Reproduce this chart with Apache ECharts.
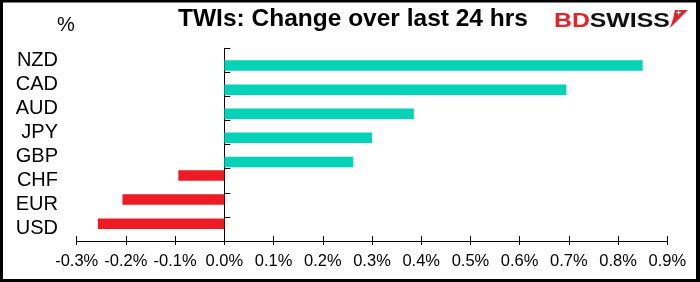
<!DOCTYPE html>
<html>
<head>
<meta charset="utf-8">
<script src="https://cdn.jsdelivr.net/npm/echarts@6/dist/echarts.min.js"></script>
<style>
html,body{margin:0;padding:0;background:#fff;}
#c{width:700px;height:282px;}
</style>
</head>
<body>
<div id="c"></div>
<script>
// Data (categories listed bottom to top)
const categories = ['USD', 'EUR', 'CHF', 'GBP', 'JPY', 'AUD', 'CAD', 'NZD'];
const changes = [-0.257, -0.207, -0.0935, 0.262, 0.300, 0.385, 0.695, 0.850];
const xTicks = { min: -0.3, max: 0.9, step: 0.1 };
const titleText = 'TWIs: Change over last 24 hrs';
const unitText = '%';

const negData = changes.map(v => (v < 0 ? v : '-'));
const posData = changes.map(v => (v >= 0 ? v : '-'));

const FONT = '"Liberation Sans", Arial, sans-serif';
const chart = echarts.init(document.getElementById('c'), null, { renderer: 'canvas' });

const fmt = v => (Math.abs(v) < 1e-9 ? '0.0' : v.toFixed(1)) + '%';

chart.setOption({
  animation: false,
  backgroundColor: '#fff',
  title: {
    text: titleText,
    left: 178,
    top: 7,
    padding: 0,
    textStyle: { fontFamily: FONT, fontSize: 24.5, fontWeight: 'bold', color: '#000' }
  },
  grid: { left: 76.7, right: 32.7, top: 48.3, bottom: 41, containLabel: false, outerBoundsMode: 'none' },
  xAxis: [
    {
      type: 'value',
      min: xTicks.min, max: xTicks.max, interval: xTicks.step,
      position: 'bottom',
      axisLine: { show: true, lineStyle: { color: '#000', width: 1 } },
      axisTick: { show: true, inside: true, length: 5, lineStyle: { color: '#000' } },
      axisLabel: { show: true, margin: 12, formatter: fmt, fontFamily: FONT, fontSize: 16.5, color: '#000', hideOverlap: false },
      splitLine: { show: false }
    },
    {
      type: 'value',
      min: xTicks.min, max: xTicks.max, interval: xTicks.step,
      position: 'bottom',
      axisLine: { show: false },
      axisTick: { show: true, inside: false, length: 4, lineStyle: { color: '#000' } },
      axisLabel: { show: false },
      splitLine: { show: false }
    }
  ],
  yAxis: {
    type: 'category',
    data: categories,
    axisLine: { show: true, onZero: true, lineStyle: { color: '#000', width: 1 } },
    axisTick: { show: true, inside: true, length: 6, lineStyle: { color: '#000' } },
    axisLabel: { interval: 0, margin: 18.7, fontFamily: FONT, fontSize: 20, color: '#000', hideOverlap: false },
    splitLine: { show: false }
  },
  series: [
    {
      type: 'bar', data: negData, barWidth: 10.5, barGap: '0%',
      itemStyle: { color: '#ED1C24' }
    },
    {
      type: 'bar', data: posData, barWidth: 10.5, barGap: '0%',
      itemStyle: { color: '#05D3B8' }
    }
  ],
  graphic: [
    { type: 'text', left: 57, top: 15, style: { text: unitText, font: '20px ' + FONT, fill: '#000' } },
    {
      type: 'text', left: 554, top: 11, scaleX: 1.24,
      style: {
        text: '{r|BD}{k|SWISS}',
        rich: {
          r: { font: 'bold 20px ' + FONT, fill: '#E3222B' },
          k: { font: 'bold 20px ' + FONT, fill: '#111' }
        }
      }
    },
    { type: 'polygon', shape: { points: [[675, 10], [688, 10], [670, 28], [673, 19]] }, style: { fill: '#E3222B' } },
    { type: 'text', left: 676, top: 9, style: { text: '+', font: 'bold 9px ' + FONT, fill: '#fff' } },
    { type: 'rect', shape: { x: 0, y: 0, width: 700, height: 2.5 }, style: { fill: '#000' } },
    { type: 'rect', shape: { x: 0, y: 0, width: 3, height: 282 }, style: { fill: '#000' } },
    { type: 'rect', shape: { x: 696, y: 0, width: 4, height: 282 }, style: { fill: '#000' } },
    { type: 'rect', shape: { x: 0, y: 279, width: 700, height: 3 }, style: { fill: '#000' } }
  ]
});
</script>
</body>
</html>
